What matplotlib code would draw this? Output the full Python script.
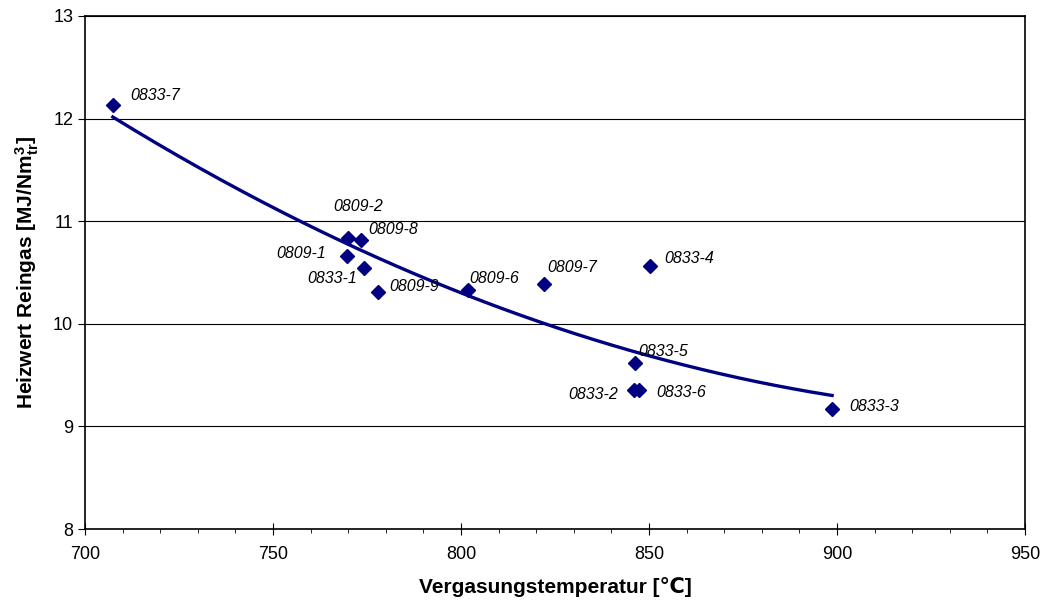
import numpy as np
import matplotlib.pyplot as plt
from matplotlib.ticker import MultipleLocator

plt.rcParams['font.family'] = ['Liberation Sans', 'DejaVu Sans']
plt.rcParams['mathtext.fontset'] = 'custom'
plt.rcParams['mathtext.rm'] = 'Liberation Sans'
plt.rcParams['mathtext.bf'] = 'Liberation Sans:bold'

# Versuchspunkte
names = ['0833-7', '0809-2', '0809-8', '0809-1', '0833-1', '0809-9', '0809-6',
         '0809-7', '0833-4', '0833-5', '0833-2', '0833-6', '0833-3']
temp = [707.4, 770.0, 773.3, 769.6, 774.2, 777.9, 801.9,
        822.1, 850.3, 846.3, 846.1, 847.4, 898.7]
heizwert = [12.13, 10.84, 10.82, 10.66, 10.54, 10.31, 10.33,
            10.39, 10.56, 9.62, 9.35, 9.35, 9.17]
# label offsets in pixels (dx, dy), ha
offsets = [(17, 10, 'left'), (10, 31, 'center'), (8, 10, 'left'), (-21, 3, 'right'),
           (-7, -10, 'right'), (11, 5, 'left'), (1, 11, 'left'), (3, 16, 'left'),
           (14, 8, 'left'), (3, 11, 'left'), (-16, -4, 'right'), (17, -2, 'left'),
           (17, 2, 'left')]

color = '#000080'

fig = plt.figure(figsize=(10.45, 6.05), dpi=100)
ax = fig.add_axes([85/1045, 1-529/605, (1025-85)/1045, (529-16)/605])

ax.plot(temp, heizwert, 'D', color=color, ms=7, zorder=3)

# polynomische Trendlinie 2. Ordnung
coef = np.polyfit(temp, heizwert, 2)
xs = np.linspace(min(temp), max(temp), 200)
ax.plot(xs, np.polyval(coef, xs), color=color, lw=2.4, zorder=2)

for n, x, y, (dx, dy, ha) in zip(names, temp, heizwert, offsets):
    ax.annotate(n, (x, y), xytext=(dx, dy), textcoords='offset pixels',
                ha=ha, va='center', fontsize=11.5, style='italic')

ax.set_xlim(700, 950)
ax.set_ylim(8, 13)
ax.xaxis.set_major_locator(MultipleLocator(50))
ax.xaxis.set_minor_locator(MultipleLocator(10))
ax.yaxis.set_major_locator(MultipleLocator(1))
ax.tick_params(axis='x', which='major', direction='inout', length=8, labelsize=13, pad=8)
ax.tick_params(axis='x', which='minor', direction='out', length=3)
ax.tick_params(axis='y', direction='out', length=5, labelsize=13)
ax.grid(True, axis='y', color='black', lw=0.8)
for s in ax.spines.values():
    s.set_linewidth(1.2)

ax.set_xlabel('Vergasungstemperatur [℃]', fontsize=15, fontweight='bold', labelpad=10)
ax.set_ylabel(r'Heizwert Reingas [MJ/Nm$\mathbf{^{3}_{tr}}$]', fontsize=15,
              fontweight='bold', labelpad=9)

fig.savefig('out.png')
